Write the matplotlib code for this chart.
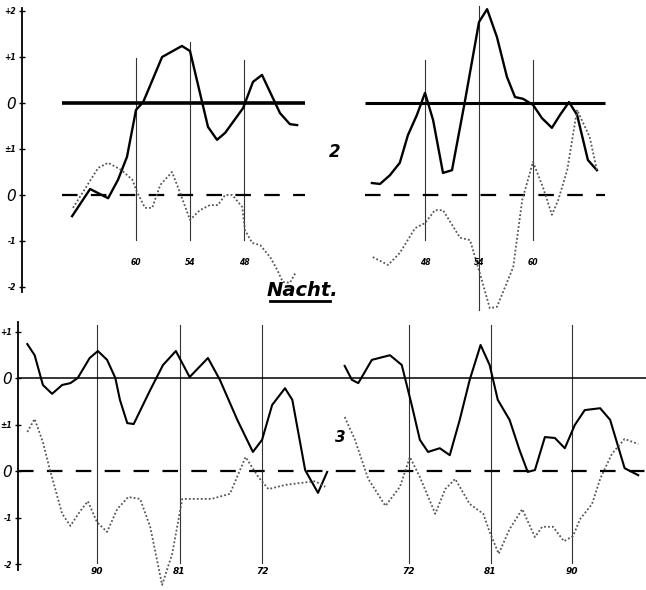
import matplotlib
matplotlib.use("Agg")
import matplotlib.pyplot as plt
from matplotlib.lines import Line2D

# ---- data (x = position label, v = deviation) ----
# upper panel 2, left half (x runs 60 -> 48)
tl_solid_x = [67.1, 65.1, 63.1, 62.0, 61.0, 60.0, 59.2, 57.1, 54.9, 54.0, 52.0, 51.0,
              50.1, 48.1, 47.0, 46.0, 44.0, 42.9, 42.1]
tl_solid_v = [-2.46, -1.87, -2.07, -1.67, -1.17, -0.15, 0.02, 1.0, 1.24, 1.13, -0.52, -0.80,
              -0.65, -0.11, 0.46, 0.61, -0.22, -0.46, -0.48]
tl_dot_x = [67.0, 64.2, 63.1, 61.6, 60.4, 59.9, 59.0, 58.2, 57.3, 56.0, 55.3, 54.0, 52.9,
            51.8, 50.9, 50.1, 49.3, 48.2, 47.9, 47.1, 46.2, 45.1, 44.3, 43.7, 42.9, 42.3]
tl_dot_v = [-0.28, 0.59, 0.70, 0.54, 0.33, 0.07, -0.28, -0.28, 0.22, 0.50, 0.15, -0.54, -0.33,
            -0.22, -0.22, 0.0, 0.0, -0.26, -0.76, -1.04, -1.09, -1.35, -1.63, -1.89, -1.91, -1.70]

# upper panel 2, right half (x runs 48 -> 60)
tr_solid_x = [42.1, 43.0, 44.1, 45.2, 46.1, 47.1, 48.0, 48.9, 50.0, 51.0, 52.4, 54.0, 54.9,
              56.0, 57.1, 58.0, 58.9, 60.0, 61.0, 62.1, 63.0, 64.0, 64.9, 66.1, 67.1]
tr_solid_v = [-1.74, -1.76, -1.57, -1.30, -0.70, -0.26, 0.22, -0.37, -1.52, -1.46, 0.0, 1.76,
              2.04, 1.43, 0.57, 0.13, 0.09, -0.04, -0.33, -0.54, -0.26, 0.02, -0.26, -1.24, -1.46]
tr_dot_x = [42.2, 43.9, 45.2, 46.9, 48.0, 49.1, 50.0, 51.9, 53.0, 53.9, 55.2, 56.0, 57.8,
            58.8, 60.0, 61.1, 62.1, 62.8, 63.8, 64.9, 66.3, 67.1]
tr_dot_v = [-1.35, -1.52, -1.26, -0.72, -0.61, -0.33, -0.33, -0.93, -0.98, -1.57, -2.46, -2.43,
            -1.57, -0.11, 0.72, 0.17, -0.43, -0.11, 0.54, 1.85, 1.26, 0.54]

# lower panel 3, left half (x runs 90 -> 72)
bl_solid_x = [97.6, 96.8, 95.9, 94.9, 93.8, 92.9, 92.1, 90.8, 89.9, 88.9, 88.0, 87.5, 86.7,
              86.0, 84.2, 82.8, 81.4, 79.9, 77.9, 76.6, 74.7, 73.0, 72.0, 70.9, 69.5, 68.7,
              67.3, 65.9, 64.9]
bl_solid_v = [0.73, 0.49, -0.15, -0.34, -0.15, -0.11, 0.0, 0.43, 0.58, 0.39, 0.0, -0.47, -0.97,
              -0.99, -0.26, 0.28, 0.58, 0.02, 0.43, -0.04, -0.90, -1.59, -1.33, -0.58, -0.22,
              -0.47, -1.98, -2.47, -2.02]
bl_dot_x = [97.6, 96.8, 95.9, 95.1, 93.8, 92.9, 91.9, 91.0, 90.0, 88.9, 87.8, 86.6, 85.3,
            84.2, 82.9, 81.8, 80.7, 79.3, 77.5, 75.5, 73.8, 72.4, 71.3, 69.5, 67.9, 66.2, 65.1]
bl_dot_v = [0.84, 1.12, 0.62, 0.0, -0.92, -1.18, -0.88, -0.65, -1.10, -1.31, -0.82, -0.56,
            -0.60, -1.20, -2.45, -1.78, -0.60, -0.60, -0.60, -0.49, 0.30, -0.13, -0.39, -0.30,
            -0.26, -0.22, -0.34]

# lower panel 3, right half (x runs 72 -> 90)
br_solid_x = [64.9, 65.7, 66.4, 67.9, 69.9, 71.2, 72.3, 73.2, 74.1, 75.4, 76.5, 77.6, 78.7,
              79.9, 80.9, 81.8, 83.1, 84.2, 85.1, 85.9, 87.0, 88.1, 89.2, 90.3, 91.4, 93.1,
              94.2, 95.8, 97.3]
br_solid_v = [0.26, -0.04, -0.11, 0.39, 0.49, 0.28, -0.58, -1.33, -1.59, -1.51, -1.66, -0.90,
              -0.04, 0.71, 0.28, -0.47, -0.90, -1.55, -2.02, -1.98, -1.27, -1.29, -1.51, -1.01,
              -0.69, -0.65, -0.90, -1.94, -2.09]
br_dot_x = [64.9, 66.0, 67.5, 69.4, 71.0, 72.1, 73.2, 74.9, 76.0, 77.1, 78.7, 80.2, 80.9,
            81.9, 83.1, 84.5, 85.9, 86.7, 87.9, 89.1, 90.1, 90.9, 92.2, 93.1, 94.4, 95.8, 97.3]
br_dot_v = [1.16, 0.69, -0.17, -0.75, -0.34, 0.30, -0.13, -0.92, -0.39, -0.17, -0.71, -0.92,
            -1.31, -1.78, -1.25, -0.82, -1.42, -1.20, -1.20, -1.51, -1.40, -1.03, -0.71, -0.17,
            0.37, 0.69, 0.58]

top_marks = [60, 54, 48]
bottom_marks = [90, 81, 72]
y_tick_pos = [2, 1, 0, -1, -2, -3, -4]
top_tick_labels = ["+2", "+1", "0", "\u00b11", "0", "-1", "-2"]
bottom_tick_pos = [1, 0, -1, -2, -3, -4]
bottom_tick_labels = ["+1", "0", "\u00b11", "0", "-1", "-2"]

OFFSET = 2.0  # the dotted curve sits two units below the solid one
W, H = 646.0, 590.0


def make_axes(fig, x0, x1, y0, y1):
    # pixel box -> figure fraction
    return fig.add_axes([x0 / W, 1 - y1 / H, (x1 - x0) / W, (y1 - y0) / H])


def strip(ax):
    for s in ax.spines.values():
        s.set_visible(False)
    ax.set_xticks([])
    ax.set_yticks([])
    ax.patch.set_alpha(0)


def draw_panel(ax, sx, sv, dx, dv, base_lo, base_hi, solid_lw, base_lw):
    ax.plot([base_lo, base_hi], [0, 0], color="black", lw=base_lw, solid_capstyle="butt")
    ax.plot([base_lo, base_hi], [-OFFSET, -OFFSET], color="black", lw=1.6,
            dashes=(7, 6))
    ax.plot(sx, sv, color="black", lw=solid_lw, zorder=3)
    ax.plot(dx, [v - OFFSET for v in dv], color="#555555", lw=1.3, ls=(0, (1, 1.2)),
            zorder=3)


def vlines(ax, marks, spans, label_y, size):
    for m, (lo, hi) in zip(marks, spans):
        ax.plot([m, m], [lo, hi], color="#333333", lw=0.8, zorder=1)
        ax.text(m, label_y, str(m), ha="center", va="center", fontsize=size,
                fontweight="bold", style="italic")


def left_axis(ax, pos, labels, lo, hi):
    ax.spines["left"].set_visible(True)
    ax.spines["left"].set_bounds(lo, hi)
    ax.spines["left"].set_linewidth(1.3)
    ax.set_yticks(pos)
    ax.set_yticklabels(labels)
    ax.tick_params(axis="y", direction="inout", length=5, width=1, pad=2)
    for t in ax.get_yticklabels():
        if t.get_text() == "0":
            t.set_fontsize(11)
        else:
            t.set_fontsize(5.5)
            t.set_fontweight("bold")
        t.set_fontstyle("italic")


fig = plt.figure(figsize=(6.46, 5.9), dpi=100)

# ---- upper pair (panel 2): 46 px per unit, solid zero at y=103 ----
u_top, u_bot = (103 - 5) / 46.0, (103 - 315) / 46.0
ax_tl = make_axes(fig, 22, 330, 5, 315)
strip(ax_tl)
ax_tl.set_xlim(60 + (136 - 22) / 9.0, 60 - (330 - 136) / 9.0)
ax_tl.set_ylim(u_bot, u_top)
draw_panel(ax_tl, tl_solid_x, tl_solid_v, tl_dot_x, tl_dot_v, 68.2, 41.2, 1.7, 2.6)
vlines(ax_tl, top_marks, [(-2.98, 0.98), (-2.98, 1.33), (-2.98, 0.93)], -3.46, 5.5)
left_axis(ax_tl, y_tick_pos, top_tick_labels, -4.1, 2.07)

ax_tr = make_axes(fig, 360, 615, 5, 315)
strip(ax_tr)
ax_tr.set_xlim(48 + (360 - 425) / 9.0, 48 + (615 - 425) / 9.0)
ax_tr.set_ylim(u_bot, u_top)
draw_panel(ax_tr, tr_solid_x, tr_solid_v, tr_dot_x, tr_dot_v, 41.3, 68.0, 1.7, 2.2)
vlines(ax_tr, [48, 54, 60], [(-2.98, 0.93), (-4.5, 2.1), (-2.98, 0.93)], -3.46, 5.5)

fig.text(335 / W, 1 - 152 / H, "2", fontsize=12, fontweight="bold", style="italic",
         ha="center", va="center")
fig.text(302 / W, 1 - 290 / H, "Nacht.", fontsize=14, fontweight="bold", style="italic",
         ha="center", va="center")
fig.add_artist(Line2D([270 / W, 330 / W], [1 - 301 / H, 1 - 301 / H], color="black", lw=2))

# ---- lower pair (panel 3): 46.5 px per unit, solid zero at y=378 ----
l_top, l_bot = (378 - 318) / 46.5, (378 - 590) / 46.5
ax_bl = make_axes(fig, 18, 340, 318, 590)
strip(ax_bl)
ax_bl.set_xlim(90 + (97 - 18) / 9.17, 90 - (340 - 97) / 9.17)
ax_bl.set_ylim(l_bot, l_top)
draw_panel(ax_bl, bl_solid_x, bl_solid_v, bl_dot_x, bl_dot_v, 98.6, 63.5, 1.5, 1.1)
vlines(ax_bl, bottom_marks, [(-3.98, 1.14)] * 3, -4.17, 6.5)
left_axis(ax_bl, bottom_tick_pos, bottom_tick_labels, -4.13, 1.2)

ax_br = make_axes(fig, 340, 646, 318, 590)
strip(ax_br)
ax_br.set_xlim(72 + (340 - 409) / 9.06, 72 + (646 - 409) / 9.06)
ax_br.set_ylim(l_bot, l_top)
draw_panel(ax_br, br_solid_x, br_solid_v, br_dot_x, br_dot_v, 64.4, 98.2, 1.5, 1.1)
vlines(ax_br, [72, 81, 90], [(-3.98, 1.14)] * 3, -4.17, 6.5)

fig.text(340 / W, 1 - 437 / H, "3", fontsize=11, fontweight="bold", style="italic",
         ha="center", va="center")

fig.savefig("out.png", dpi=100)
